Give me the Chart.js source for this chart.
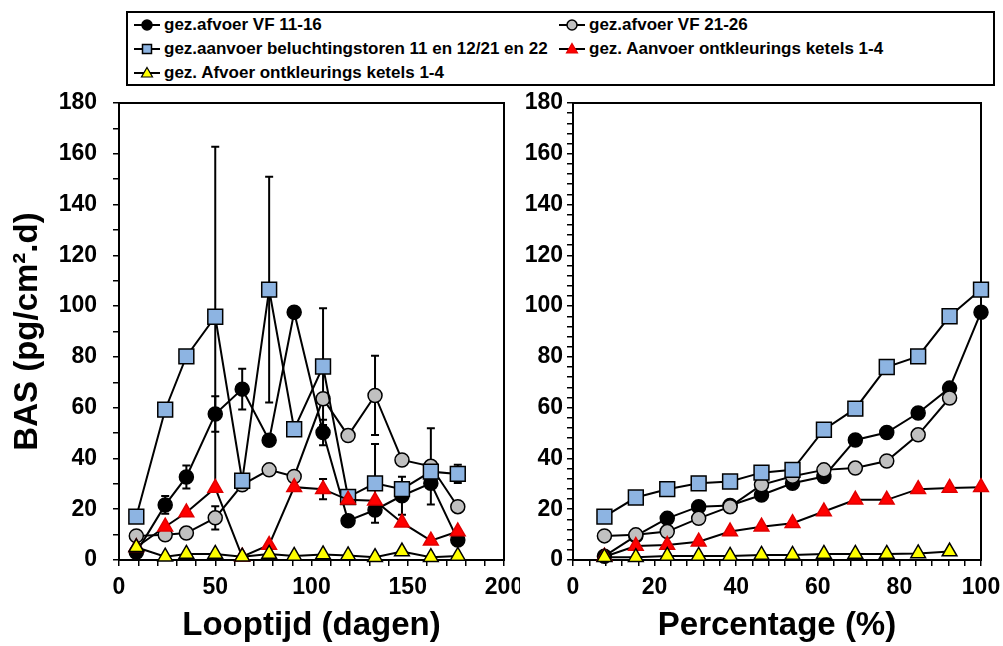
<!DOCTYPE html>
<html>
<head>
<meta charset="utf-8">
<script src="https://cdn.jsdelivr.net/npm/chart.js@4.4.0/dist/chart.umd.min.js"></script>
<style>
  body { margin: 0; background: #fff; width: 1003px; height: 646px; overflow: hidden; position: relative;
         font-family: "Liberation Sans", Arial, sans-serif; }
  #legend { position: absolute; left: 126px; top: 11px; width: 869px; height: 75px; border: 2px solid #000; box-sizing: border-box; }
  .item { position: absolute; display: flex; align-items: center; height: 20px; font-weight: bold; font-size: 17px; color: #000; white-space: nowrap; }
  .item svg { margin-right: 3px; }
  #left { position: absolute; left: 0; top: 90px; }
  #right { position: absolute; left: 520px; top: 90px; }
</style>
</head>
<body>
<div id="legend"></div>
<canvas id="left" width="520" height="556"></canvas>
<canvas id="right" width="483" height="556"></canvas>
<script>
// looptijd (dagen)
const days = [9, 24, 35, 50, 64, 78, 91, 106, 119, 133, 147, 162, 176];
const afvoer1116 = [3, 21.7, 32.7, 57.5, 67.3, 47.2, 97.6, 50.2, 15.5, 19.7, 25.3, 30.2, 7.9];
const afvoer1116Err = [null, 3.5, 4.5, 7, 8, null, null, 5, null, null, 7.5, null, null];
const afvoer2126 = [9.5, 9.9, 10.6, 16.6, 29.6, 35.5, 32.9, 63.5, 49, 64.8, 39.4, 36.9, 21];
const afvoer2126Err = [null, null, null, 4.6, null, null, null, null, null, 15.6, null, 15, null];
const aanvoerBel = [17.1, 59.2, 80.2, 95.8, 31.2, 106.5, 51.5, 76.2, 24.8, 30.2, 27.9, 34.8, 33.9];
const aanvoerBelErr = [null, null, 2, 67, null, 44.5, null, 23, null, 15.5, null, null, 3.6];
const aanvoerKet = [5, 13.1, 18.7, 28.4, 1.3, 5.9, 28.7, 27.9, 23.7, 23.3, 14.7, 7.6, 11.2];
const aanvoerKetErr = [null, null, null, null, null, null, null, 4, null, null, null, null, null];
const afvoerKet = [5, 1.3, 2.4, 2.4, 1.3, 2.4, 1.6, 2.2, 1.8, 1.1, 3.3, 1.1, 1.6];

// percentage (%)
const pct = [7.7, 15.4, 23.1, 30.8, 38.5, 46.2, 53.8, 61.5, 69.2, 76.9, 84.6, 92.3, 100];
const pctAfvoer1116 = [1.5, 9.5, 16.4, 21, 21.5, 25.6, 30.2, 32.9, 47.3, 50.2, 57.9, 67.7, 97.6];
const pctAfvoer2126 = [9.5, 9.9, 11.2, 16.4, 21, 29.6, 33, 35.5, 36.2, 39, 49.3, 63.8];
const pctAanvoerBel = [17.1, 24.6, 27.9, 30.2, 30.9, 34.4, 35.5, 51.3, 59.6, 76, 80.2, 96, 106.5];
const pctAanvoerKet = [1.3, 5.5, 5.9, 7.2, 11.2, 13.1, 14.5, 19.1, 23.7, 23.7, 27.9, 28.4, 28.7];
const pctAfvoerKet = [1.1, 1.1, 1.6, 1.6, 1.6, 2, 2, 2.4, 2.4, 2.4, 2.6, 3.3];

const labels = [
  "gez.afvoer VF 11-16",
  "gez.afvoer VF 21-26",
  "gez.aanvoer beluchtingstoren 11 en 12/21 en 22",
  "gez. Aanvoer ontkleurings ketels 1-4",
  "gez. Afvoer ontkleurings ketels 1-4",
];

// order: lower number is drawn on top
const styles = [
  { pointStyle: "circle", pointRadius: 7, pointBackgroundColor: "#000", pointBorderColor: "#000", order: 5 },
  { pointStyle: "circle", pointRadius: 7, pointBackgroundColor: "#c0c0c0", pointBorderColor: "#000", order: 4 },
  { pointStyle: "rect", pointRadius: 10.5, pointBackgroundColor: "#8db4e2", pointBorderColor: "#000", order: 3 },
  { pointStyle: "triangle", pointRadius: 8.5, pointBackgroundColor: "#ff0000", pointBorderColor: "#e00000", order: 2 },
  { pointStyle: "triangle", pointRadius: 8.5, pointBackgroundColor: "#ffff00", pointBorderColor: "#000", order: 1 },
];

function toXY(xs, ys) {
  return ys.map((y, i) => ({ x: xs[i], y: y }));
}

function makeDataset(i, xs, ys, errs) {
  return Object.assign({
    label: labels[i],
    data: toXY(xs, ys),
    errors: errs || null,
    borderColor: "#000",
    borderWidth: 2,
    pointBorderWidth: 1.5,
    pointHoverRadius: styles[i].pointRadius,
    showLine: true,
    clip: false,
  }, styles[i]);
}

const font = { family: "'Liberation Sans', Arial, sans-serif", weight: "bold" };

const errorBars = {
  id: "errorBars",
  beforeDatasetsDraw(chart) {
    const { ctx } = chart;
    const x = chart.scales.x, y = chart.scales.y;
    ctx.save();
    ctx.strokeStyle = "#000";
    ctx.lineWidth = 2;
    chart.data.datasets.forEach((ds) => {
      if (!ds.errors) return;
      ds.data.forEach((p, i) => {
        const e = ds.errors[i];
        if (!e) return;
        const px = x.getPixelForValue(p.x);
        const top = y.getPixelForValue(p.y + e);
        const bot = y.getPixelForValue(Math.max(0, p.y - e));
        ctx.beginPath();
        ctx.moveTo(px, top); ctx.lineTo(px, bot);
        ctx.moveTo(px - 4, top); ctx.lineTo(px + 4, top);
        ctx.moveTo(px - 4, bot); ctx.lineTo(px + 4, bot);
        ctx.stroke();
      });
    });
    ctx.restore();
  },
};

const frame = {
  id: "frame",
  beforeDatasetsDraw(chart) {
    const { ctx, chartArea: a } = chart;
    ctx.save();
    ctx.strokeStyle = "#000";
    ctx.lineWidth = 2;
    ctx.strokeRect(a.left, a.top, a.right - a.left, a.bottom - a.top);
    ctx.restore();
  },
};

function axisOpts(min, max, step, major, pad, size, title) {
  return {
    type: "linear",
    min: min,
    max: max,
    ticks: {
      stepSize: step,
      autoSkip: false,
      maxRotation: 0,
      padding: pad,
      color: "#000",
      font: Object.assign({ size: 23 }, font),
      callback: (v) => (v % major === 0 ? v : ""),
    },
    grid: { drawOnChartArea: false, drawTicks: true, tickLength: 6, color: "#000", lineWidth: 1.5 },
    border: { display: true, color: "#000", width: 2 },
    title: title || { display: false },
    // fixed axis size, label overflow handled by layout padding
    afterFit: (s) => {
      if (s.isHorizontal()) s.height = size; else s.width = size;
      s.paddingTop = 0; s.paddingBottom = 0; s.paddingLeft = 0; s.paddingRight = 0;
    },
  };
}

function makeChart(id, datasets, xOpts, yOpts, padding) {
  return new Chart(document.getElementById(id), {
    type: "line",
    data: { datasets: datasets },
    options: {
      responsive: false,
      animation: false,
      layout: { padding: padding },
      plugins: { legend: { display: false }, tooltip: { enabled: false } },
      scales: { x: xOpts, y: yOpts },
    },
    plugins: [frame, errorBars],
  });
}

const leftChart = makeChart("left", [
  makeDataset(0, days, afvoer1116, afvoer1116Err),
  makeDataset(1, days, afvoer2126, afvoer2126Err),
  makeDataset(2, days, aanvoerBel, aanvoerBelErr),
  makeDataset(3, days, aanvoerKet, aanvoerKetErr),
  makeDataset(4, days, afvoerKet),
],
axisOpts(0, 200, 10, 50, 8, 86,
  { display: true, text: "Looptijd (dagen)", color: "#000", font: Object.assign({ size: 33 }, font), padding: 0 }),
axisOpts(0, 180, 10, 20, 16, 119,
  { display: true, text: "BAS (pg/cm\u00B2.d)", color: "#000", font: Object.assign({ size: 33 }, font), padding: { top: 8, bottom: 0 } }),
{ top: 13, right: 16, left: 0, bottom: 0 });

const rightChart = makeChart("right", [
  makeDataset(0, pct, pctAfvoer1116),
  makeDataset(1, pct, pctAfvoer2126),
  makeDataset(2, pct, pctAanvoerBel),
  makeDataset(3, pct, pctAanvoerKet),
  makeDataset(4, pct, pctAfvoerKet),
],
axisOpts(0, 100, 4, 20, 8, 86,
  { display: true, text: "Percentage (%)", color: "#000", font: Object.assign({ size: 33 }, font), padding: 0 }),
axisOpts(0, 180, 4, 20, 4, 53),
{ top: 13, right: 22, left: 0, bottom: 0 });

// legend
function markerSvg(i) {
  const s = styles[i];
  const fill = s.pointBackgroundColor, stroke = s.pointBorderColor;
  let shape;
  if (s.pointStyle === "circle") shape = `<circle cx="14" cy="10" r="5" fill="${fill}" stroke="${stroke}" stroke-width="1.5"/>`;
  else if (s.pointStyle === "rect") shape = `<rect x="9.5" y="5.5" width="9" height="9" fill="${fill}" stroke="${stroke}" stroke-width="1.5"/>`;
  else shape = `<polygon points="14,4.5 19.5,14 8.5,14" fill="${fill}" stroke="${stroke}" stroke-width="1.2"/>`;
  return `<svg width="28" height="20"><line x1="1" y1="10" x2="27" y2="10" stroke="#000" stroke-width="2"/>${shape}</svg>`;
}
const legendPos = [[5, 2], [430, 2], [5, 26], [430, 26], [5, 50]];
const legend = document.getElementById("legend");
labels.forEach((t, i) => {
  const d = document.createElement("div");
  d.className = "item";
  d.style.left = legendPos[i][0] + "px";
  d.style.top = legendPos[i][1] + "px";
  d.innerHTML = markerSvg(i) + "<span>" + t + "</span>";
  legend.appendChild(d);
});
</script>
</body>
</html>
